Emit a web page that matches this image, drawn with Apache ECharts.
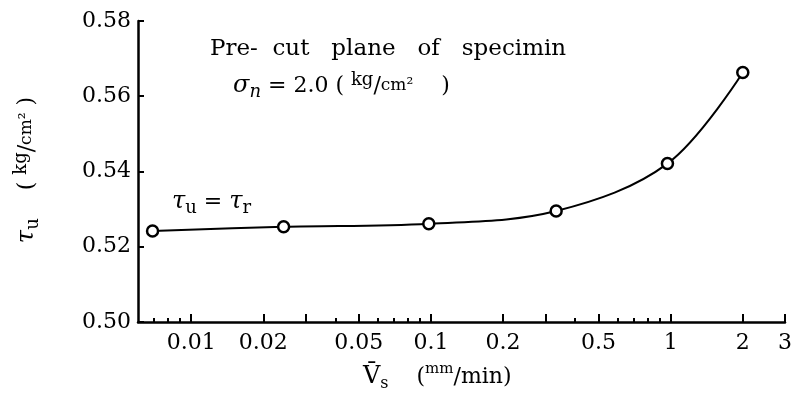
<!DOCTYPE html>
<html>
<head>
<meta charset="utf-8">
<script src="https://cdn.jsdelivr.net/npm/echarts@6/dist/echarts.min.js"></script>
<style>
  html, body { margin: 0; padding: 0; background: #fff; }
  #chart { width: 795px; height: 396px; }
</style>
</head>
<body>
<div id="chart"></div>
<script>
// Shear rate V̄s (mm/min) against peak shear strength τu (kg/cm²)
const velocity = [0.0069, 0.0243, 0.098, 0.333, 0.97, 2.0];
const shearStrength = [0.5242, 0.5253, 0.5261, 0.5295, 0.5421, 0.5663];

// Log-axis tick marks: long ones, short ones, and the values that get a label
const majorTicks = [0.01, 0.02, 0.03, 0.05, 0.1, 0.2, 0.3, 0.5, 1, 2, 3];
const minorTicks = [0.007, 0.008, 0.009, 0.04, 0.06, 0.07, 0.08, 0.09, 0.4, 0.6, 0.7, 0.8, 0.9];
const xTickLabels = [0.01, 0.02, 0.05, 0.1, 0.2, 0.5, 1, 2, 3];
const yTickLabels = [0.50, 0.52, 0.54, 0.56, 0.58];

const FONT = '"DejaVu Serif", "Liberation Serif", serif';
const INK = '#000';

const chart = echarts.init(document.getElementById('chart'), null, { renderer: 'canvas' });

const data = velocity.map((v, i) => [v, shearStrength[i]]);
const fmtX = v => String(+Number(v).toPrecision(6));

// shared rich-text pieces for symbols with sub/superscripts
const richParts = {
  g:   { fontFamily: FONT, fontStyle: 'italic', fontSize: 24, color: INK, lineHeight: 30 },
  n:   { fontFamily: FONT, fontStyle: 'italic', fontSize: 18, color: INK, verticalAlign: 'bottom' },
  sb:  { fontFamily: FONT, fontSize: 18, color: INK, verticalAlign: 'bottom' },
  t:   { fontFamily: FONT, fontSize: 22, color: INK, lineHeight: 30 },
  sup: { fontFamily: FONT, fontSize: 18, color: INK, verticalAlign: 'top' },
  u:   { fontFamily: FONT, fontSize: 17, color: INK }
};

chart.setOption({
  animation: false,
  backgroundColor: '#fff',
  grid: { left: 138, right: 5, top: 21, bottom: 74, containLabel: false },
  xAxis: [
    {
      type: 'log',
      min: 0.006,
      max: 3,
      axisLine: { show: true, lineStyle: { color: INK, width: 2.5 } },
      axisTick: {
        show: true, inside: true, length: 8,
        lineStyle: { color: INK, width: 2 },
        customValues: majorTicks
      },
      axisLabel: {
        show: true, margin: 10,
        color: INK, fontFamily: FONT, fontSize: 22,
        customValues: xTickLabels,
        formatter: v => fmtX(v)
      },
      splitLine: { show: false },
      minorTick: { show: false },
      minorSplitLine: { show: false }
    },
    {
      type: 'log',
      min: 0.006,
      max: 3,
      position: 'bottom',
      axisLine: { show: false },
      axisTick: {
        show: true, inside: true, length: 4,
        lineStyle: { color: INK, width: 2 },
        customValues: minorTicks
      },
      axisLabel: { show: false },
      splitLine: { show: false }
    }
  ],
  yAxis: {
    type: 'value',
    min: 0.50,
    max: 0.58,
    interval: 0.02,
    axisLine: { show: true, lineStyle: { color: INK, width: 2.5 } },
    axisTick: { show: true, inside: true, length: 6, lineStyle: { color: INK, width: 2 } },
    axisLabel: {
      margin: 7, color: INK, fontFamily: FONT, fontSize: 22,
      customValues: yTickLabels,
      formatter: v => Number(v).toFixed(2)
    },
    splitLine: { show: false }
  },
  series: [{
    type: 'line',
    xAxisIndex: 0,
    data: data,
    smooth: 0.35,
    symbol: 'circle',
    symbolSize: 11,
    lineStyle: { color: INK, width: 2 },
    itemStyle: { color: '#fff', borderColor: INK, borderWidth: 2.5 },
    z: 5
  }],
  graphic: [
    {
      type: 'text', left: 210, top: 38,
      style: {
        text: 'Pre-  cut   plane   of   specimin',
        fontFamily: FONT, fontSize: 23, fill: INK
      }
    },
    {
      type: 'text', left: 233, top: 71,
      style: {
        text: '{g|σ}{n|n}{t| = 2.0 ( }{sup|kg}{t|/}{u|cm²}{t|    )}',
        fill: INK,
        rich: richParts
      }
    },
    {
      type: 'text', left: 172, top: 190,
      style: {
        text: '{g|τ}{sb|u}{t| = }{g|τ}{sb|r}',
        fill: INK,
        rich: richParts
      }
    },
    {
      type: 'text', x: 27, y: 170, rotation: Math.PI / 2,
      style: {
        text: '{g|τ}{sb|u}{t|    ( }{sup|kg}{t|/}{u|cm²}{t| )}',
        align: 'center', verticalAlign: 'middle',
        fill: INK,
        rich: richParts
      }
    },
    {
      type: 'text', left: 363, top: 362,
      style: {
        text: '{v|V̄}{s|s}{t|    (}{mm|mm}{t|/min)}',
        fill: INK,
        rich: {
          v: { fontFamily: FONT, fontSize: 24, color: INK, lineHeight: 30 },
          s: { fontFamily: FONT, fontSize: 16, color: INK, verticalAlign: 'bottom' },
          t: richParts.t,
          mm: { fontFamily: FONT, fontSize: 15, color: INK, verticalAlign: 'top' }
        }
      }
    }
  ]
});
</script>
</body>
</html>
